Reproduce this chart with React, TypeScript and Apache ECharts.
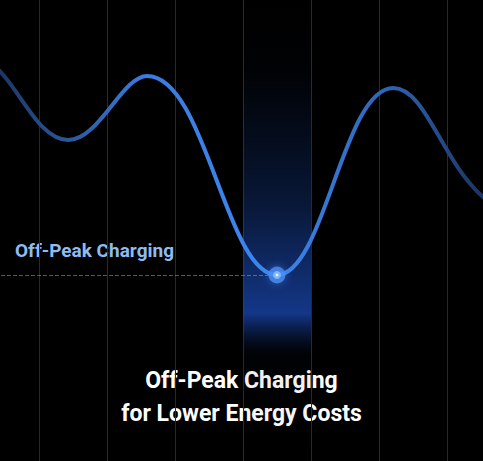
import React, { useEffect, useRef } from "react";
import * as echarts from "echarts";

// Time-slot positions (x) and relative energy cost (y): turning points of the curve
const xs = [-1.0, 0.06, 1.43, 2.59, 4.5, 6.21, 7.53, 8.6];
const cost = [330, 403, 321, 385, 186, 373, 264, 231];
const offPeakSlot = [4, 5];
const offPeakPoint = [4.5, 186];
const labelText = "Off-Peak Charging";
const titleLines = ["Off-Peak Charging", "for Lower Energy Costs"];

export default function App() {
  const ref = useRef<HTMLDivElement>(null);
  useEffect(() => {
    document.body.style.margin = "0";
    document.body.style.background = "#000";
    const chart = echarts.init(ref.current!, undefined, { renderer: "svg" });
    const lineData = xs.map((x, i) => [x, cost[i]]);
    chart.setOption({
      animation: false,
      backgroundColor: "#000",
      grid: { left: -29, right: -32, top: 0, bottom: 0, outerBoundsMode: "none", containLabel: false },
      xAxis: {
        type: "value",
        min: 0,
        max: 8,
        interval: 1,
        axisLine: { show: false },
        axisTick: { show: false },
        axisLabel: { show: false },
        splitLine: { show: true, lineStyle: { color: "#2a2a2a", width: 1 } },
      },
      yAxis: {
        type: "value",
        min: 0,
        max: 461,
        show: false,
        splitLine: { show: false },
      },
      series: [
        {
          type: "line",
          data: lineData,
          smooth: 0.4,
          symbol: "none",
          z: 3,
          lineStyle: {
            width: 4,
            cap: "round",
            color: new echarts.graphic.LinearGradient(0, 0, 1, 0, [
              { offset: 0, color: "#16305a" },
              { offset: 0.15, color: "#1c3766" },
              { offset: 0.25, color: "#2b5699" },
              { offset: 0.37, color: "#3a7ce0" },
              { offset: 0.57, color: "#3d86f0" },
              { offset: 0.75, color: "#2f62b0" },
              { offset: 0.89, color: "#1b3462" },
              { offset: 1, color: "#16305a" },
            ]),
          },
          markArea: {
            silent: true,
            itemStyle: {
              color: new echarts.graphic.LinearGradient(0, 0, 0, 1, [
                { offset: 0, color: "rgba(20,60,140,0)" },
                { offset: 0.15, color: "rgba(20,60,140,0.03)" },
                { offset: 0.45, color: "rgba(25,70,165,0.35)" },
                { offset: 0.68, color: "rgba(25,70,175,0.78)" },
                { offset: 0.72, color: "rgba(20,55,140,0.45)" },
                { offset: 0.77, color: "rgba(10,25,60,0.08)" },
                { offset: 1, color: "rgba(0,0,0,0)" },
              ]),
            },
            data: [[{ xAxis: offPeakSlot[0] }, { xAxis: offPeakSlot[1] }]],
          },
          markLine: {
            silent: true,
            symbol: "none",
            label: { show: false },
            lineStyle: { type: "dashed", color: "rgba(140,160,190,0.55)", width: 1 },
            data: [[{ coord: [0, offPeakPoint[1]] }, { coord: offPeakPoint }]],
          },
        },
        {
          type: "scatter",
          data: [offPeakPoint],
          symbolSize: 17,
          z: 5,
          itemStyle: { color: "#4a8ff5", shadowBlur: 8, shadowColor: "rgba(70,140,255,0.6)" },
        },
        {
          type: "scatter",
          data: [offPeakPoint],
          symbolSize: 8,
          z: 6,
          itemStyle: { color: "#8cc0ff" },
        },
        {
          type: "scatter",
          data: [offPeakPoint],
          symbolSize: 3,
          z: 7,
          itemStyle: { color: "#ffffff" },
        },
      ],
      graphic: [
        {
          type: "text",
          left: 15,
          top: 241,
          style: {
            text: labelText,
            fill: "#8cbcf0",
            font: "bold 19px Roboto",
          },
        },
        {
          type: "text",
          x: 241.5,
          y: 364,
          style: {
            text: titleLines.join("\n"),
            fill: "#ffffff",
            font: "bold 23px Roboto",
            textAlign: "center",
            lineHeight: 33,
          },
        },
      ],
    });
    return () => chart.dispose();
  }, []);
  return <div ref={ref} style={{ width: 483, height: 461, background: "#000" }} />;
}
